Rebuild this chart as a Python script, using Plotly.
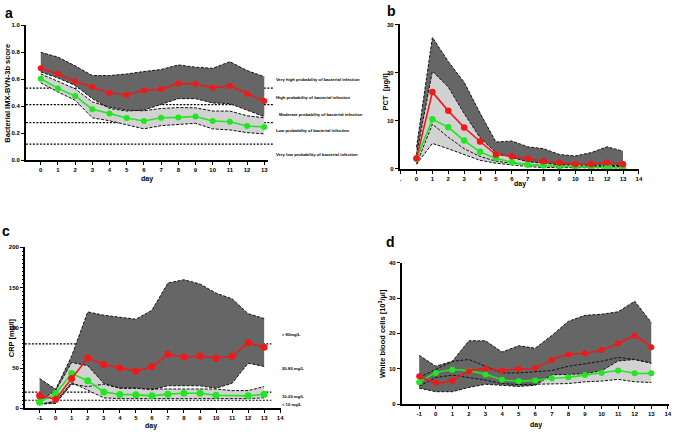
import plotly.graph_objects as go

W, H = 677, 434
FONT = "Liberation Sans, Arial, sans-serif"
RED = "#F01818"
GREEN = "#22E622"
DARK = "#666666"
LIGHT = "#D2D2D2"

# ---------------- Panel a: Bacterial IMX-BVN-3b score ----------------
days_a = list(range(0, 14))
a_red = [0.682, 0.64, 0.585, 0.543, 0.499, 0.484, 0.519, 0.526, 0.57, 0.565, 0.538, 0.553, 0.494, 0.44]
a_green = [0.604, 0.533, 0.477, 0.379, 0.347, 0.313, 0.291, 0.315, 0.318, 0.325, 0.291, 0.286, 0.254, 0.247]
a_red_hi = [0.80, 0.765, 0.70, 0.628, 0.628, 0.64, 0.658, 0.673, 0.707, 0.69, 0.682, 0.731, 0.665, 0.62]
a_red_lo = [0.655, 0.61, 0.555, 0.457, 0.384, 0.365, 0.372, 0.413, 0.457, 0.457, 0.425, 0.42, 0.372, 0.323]
a_green_hi = [0.64, 0.585, 0.53, 0.433, 0.394, 0.372, 0.367, 0.384, 0.391, 0.389, 0.365, 0.365, 0.33, 0.315]
a_green_lo = [0.575, 0.506, 0.445, 0.315, 0.293, 0.262, 0.233, 0.257, 0.266, 0.274, 0.233, 0.225, 0.205, 0.196]
a_thresholds = [0.535, 0.413, 0.279, 0.12]
a_zone_labels = [
    "Very high probability of bacterial infection",
    "High probability of bacterial infection",
    "Moderate probability of bacterial infection",
    "Low probability of bacterial infection",
    "Very low probability of bacterial infection",
]
a_zone_y = [0.60, 0.468, 0.338, 0.22, 0.045]
a_yticks = [0.0, 0.2, 0.4, 0.6, 0.8, 1.0]
a_yticktext = ["0.0", "0.2", "0.4", "0.6", "0.8", "1.0"]

# ---------------- Panel b: PCT ----------------
days_b = list(range(0, 14))
b_red = [2.2, 15.95, 12.06, 8.6, 5.7, 3.0, 2.65, 2.1, 1.6, 1.3, 1.0, 1.0, 1.35, 1.0]
b_green = [2.1, 10.3, 8.65, 5.9, 3.55, 2.2, 1.4, 0.9, 0.7, 0.55, 0.4, 0.35, 0.3, 0.25]
b_red_hi = [4.5, 27.3, 22.3, 18.0, 11.6, 5.6, 5.8, 4.6, 4.2, 3.0, 2.7, 3.4, 4.6, 3.7]
b_red_lo = [1.0, 9.3, 6.6, 4.2, 2.6, 1.6, 1.2, 0.9, 0.7, 0.6, 0.5, 0.5, 0.5, 0.5]
b_green_hi = [3.0, 20.3, 17.0, 11.5, 6.5, 3.4, 2.4, 1.5, 1.2, 0.9, 0.8, 0.8, 0.8, 0.7]
b_green_lo = [1.0, 5.3, 4.2, 3.0, 1.8, 1.2, 0.8, 0.5, 0.3, 0.25, 0.2, 0.2, 0.2, 0.2]
b_yticks = [0, 10, 20, 30]

# ---------------- Panel c: CRP ----------------
days_c = list(range(-1, 14))
c_red = [15.5, 11.4, 37, 62.5, 54.3, 50.2, 46.2, 51.5, 67, 63.7, 65, 62.1, 64.6, 81.3, 76]
c_green = [7.4, 18.4, 43.3, 34.3, 20.4, 17.2, 17.0, 15.5, 17.6, 18.8, 18.8, 16.3, None, 15.5, 17.6]
c_red_hi = [37, 23.7, 65, 119.7, 115.6, 113, 110.7, 121.7, 155.6, 159.7, 154.4, 143, 136, 117.6, 111.5]
c_red_lo = [5.3, 6, 30, 27, 30, 25, 25, 23, 28, 28, 28, 25, 31, 56, 52]
c_green_hi = [9, 22, 57, 53, 31, 25, 25, 24, 24, 24, 24, 24, 22, 22, 27]
c_green_lo = [5, 9, 32, 22, 13, 12, 12, 12, 12, 12, 12, 12, 12, 12, 13]
c_thresholds = [80, 20, 10]
c_zone_labels = ["> 80mg/L", "20-80 mg/L", "10-20 mg/L", "< 10 mg/L"]
c_zone_y = [92, 50, 14.7, 5.3]
c_yticks = [0, 50, 100, 150, 200]

# ---------------- Panel d: White blood cells ----------------
days_d = list(range(-1, 14))
d_red = [7.9, 6.0, 6.7, 9.3, 10.0, 9.5, 9.9, 10.2, 12.5, 14.0, 14.4, 15.3, 17.1, 19.3, 16.1]
d_green = [6.2, 8.8, 9.7, 9.4, 8.4, 6.9, 6.5, 6.7, 7.3, 7.6, 8.2, 8.8, 9.5, 8.7, 8.7]
d_red_hi = [13.8, 10.7, 12.1, 17.9, 17.9, 14.7, 16.5, 15.8, 19.4, 23.4, 25.1, 25.4, 26.1, 29.1, 23.1]
d_red_lo = [4.5, 3.5, 3.5, 4.7, 5.6, 5.3, 5.0, 5.3, 8.3, 8.4, 8.6, 9.4, 12.2, 12.6, 11.6]
d_green_hi = [7.5, 9.8, 12.1, 12.6, 10.7, 8.8, 8.8, 9.1, 9.5, 10.7, 11.4, 12.1, 13.2, 12.6, 11.6]
d_green_lo = [5.1, 7.5, 8.2, 7.5, 6.8, 5.8, 5.5, 5.6, 5.6, 5.8, 6.3, 6.5, 7.0, 6.3, 6.1]
d_yticks = [0, 10, 20, 30, 40]


def fx(p):
    return p / W


def fy(p):
    return 1 - p / H


fig = go.Figure()


def add_panel(n, days, red, green, rhi, rlo, ghi, glo, dark_on_top=False,
              mean_shape="linear", msize=6):
    xa = "x" if n == 1 else f"x{n}"
    ya = "y" if n == 1 else f"y{n}"
    xr = days + days[::-1]
    dark = go.Scatter(x=xr, y=rhi + rlo[::-1], fill="toself", fillcolor=DARK,
                      mode="lines", line=dict(width=0),
                      xaxis=xa, yaxis=ya, hoverinfo="skip")
    light = go.Scatter(x=xr, y=ghi + glo[::-1], fill="toself", fillcolor=LIGHT,
                       mode="lines", line=dict(width=0),
                       xaxis=xa, yaxis=ya, hoverinfo="skip")
    for t in ([light, dark] if dark_on_top else [dark, light]):
        fig.add_trace(t)
    for b in (rhi, rlo, ghi, glo):
        fig.add_trace(go.Scatter(x=days, y=b, mode="lines",
                                 line=dict(color="#111111", width=1,
                                           dash="3px,1.5px"),
                                 xaxis=xa, yaxis=ya, hoverinfo="skip"))
    for vals, col in ((green, GREEN), (red, RED)):
        fig.add_trace(go.Scatter(x=days, y=vals, mode="lines+markers",
                                 line=dict(color=col, width=1.6, shape=mean_shape,
                                           smoothing=0.5),
                                 marker=dict(color=col, size=msize),
                                 connectgaps=True, xaxis=xa, yaxis=ya))


add_panel(1, days_a, a_red, a_green, a_red_hi, a_red_lo, a_green_hi, a_green_lo, msize=6)
add_panel(2, days_b, b_red, b_green, b_red_hi, b_red_lo, b_green_hi, b_green_lo, msize=6.5)
add_panel(3, days_c, c_red, c_green, c_red_hi, c_red_lo, c_green_hi, c_green_lo, msize=7)
add_panel(4, days_d, d_red, d_green, d_red_hi, d_red_lo, d_green_hi, d_green_lo,
          dark_on_top=True, mean_shape="spline", msize=6)

tickfont = dict(family=FONT, size=6, color="black", weight="bold")


def axis_x(dom_px, rng, tv, tt):
    return dict(domain=[fx(dom_px[0]), fx(dom_px[1])], range=rng, tickvals=tv, ticktext=tt,
                showline=True, linecolor="black", linewidth=1.6, ticks="outside",
                ticklen=3, tickwidth=1, tickcolor="black", tickfont=tickfont,
                showgrid=False, zeroline=False, fixedrange=True)


def axis_y(dom_px, rng, tv, tt, minor=None):
    d = dict(domain=[fy(dom_px[1]), fy(dom_px[0])], range=rng, tickvals=tv, ticktext=tt,
             showline=True, linecolor="black", linewidth=1.6, ticks="outside",
             ticklen=3, tickwidth=1, tickcolor="black", tickfont=tickfont,
             showgrid=False, zeroline=False, fixedrange=True)
    if minor:
        d["minor"] = minor
    return d


layout = dict(
    width=W, height=H, margin=dict(l=0, r=0, t=0, b=0),
    paper_bgcolor="white", plot_bgcolor="white", showlegend=False,
    font=dict(family=FONT, color="black"),
)
layout["xaxis"] = axis_x((26, 270), [-0.867, 13.24], days_a, [str(d) for d in days_a])
layout["yaxis"] = axis_y((22.7, 159.5), [0, 1.0], a_yticks, a_yticktext)
layout["xaxis"]["anchor"] = "y"
layout["yaxis"]["anchor"] = "x"

xb = list(range(-1, 15))
layout["xaxis2"] = axis_x((402, 643), [-1.064, 14.02], xb, ["."] + [str(d) for d in xb[1:]])
layout["yaxis2"] = axis_y((21.7, 168.3), [0, 30], b_yticks, [str(v) for v in b_yticks])
layout["xaxis2"]["anchor"] = "y2"
layout["yaxis2"]["anchor"] = "x2"

xc = list(range(-1, 15))
layout["xaxis3"] = axis_x((25, 283), [-1.92, 14.07], xc, [str(d) for d in xc])
layout["yaxis3"] = axis_y((247.7, 411), [0, 200], c_yticks, [str(v) for v in c_yticks],
                          minor=dict(dtick=5, ticklen=1.5, tickwidth=0.8, tickcolor="black", ticks="outside"))
layout["xaxis3"]["anchor"] = "y3"
layout["yaxis3"]["anchor"] = "x3"

layout["xaxis4"] = axis_x((404, 673), [-2.06, 14.07], xc, [str(d) for d in xc])
layout["yaxis4"] = axis_y((263.3, 406.7), [0, 40], d_yticks, [str(v) for v in d_yticks])
layout["xaxis4"]["anchor"] = "y4"
layout["yaxis4"]["anchor"] = "x4"

fig.update_layout(**layout)

# threshold dotted lines
for v in a_thresholds:
    fig.add_shape(type="line", xref="paper", yref="y", x0=fx(26), x1=fx(275), y0=v, y1=v,
                  line=dict(color="black", width=1.2, dash="2px,1.5px"), layer="below")
for v in c_thresholds:
    fig.add_shape(type="line", xref="paper", yref="y3", x0=fx(25), x1=fx(273), y0=v, y1=v,
                  line=dict(color="black", width=1.2, dash="2px,1.5px"), layer="below")

small = dict(family=FONT, size=4.2, color="black", weight="bold")
for txt, v in zip(a_zone_labels, a_zone_y):
    xoff = 279 if txt.startswith("Moderate") else 276
    fig.add_annotation(text=txt, xref="paper", yref="y", x=fx(xoff), y=v, xanchor="left",
                       yanchor="middle", showarrow=False, font=small)
for txt, v in zip(c_zone_labels, c_zone_y):
    fig.add_annotation(text=txt, xref="paper", yref="y3", x=fx(282), y=v, xanchor="left",
                       yanchor="middle", showarrow=False, font=small)

title_font = dict(family=FONT, size=7.5, color="black", weight="bold")
day_font = dict(family=FONT, size=7, color="black", weight="bold")
letter_font = dict(family=FONT, size=14, color="black", weight="bold")

for txt, x, y in (("a", 9, 10), ("b", 394, 8), ("c", 6, 231), ("d", 393, 242)):
    fig.add_annotation(text=txt, xref="paper", yref="paper", x=fx(x), y=fy(y),
                       xanchor="center", yanchor="middle", showarrow=False, font=letter_font)

for txt, x, y in (("day", 148, 178), ("day", 523, 184), ("day", 152, 429), ("day", 539, 428)):
    fig.add_annotation(text=txt, xref="paper", yref="paper", x=fx(x), y=fy(y),
                       xanchor="center", yanchor="middle", showarrow=False, font=day_font)

for txt, x, y in (("Bacterial IMX-BVN-3b score", 8, 91),
                  ("PCT  [µg/l]", 388, 90),
                  ("CRP [mg/l]", 11, 339),
                  ("White blood cells [10<sup>3</sup>/µl]", 385, 335)):
    fig.add_annotation(text=txt, xref="paper", yref="paper", x=fx(x), y=fy(y),
                       xanchor="center", yanchor="middle", textangle=-90,
                       showarrow=False, font=title_font)

fig.write_html("out.html")
